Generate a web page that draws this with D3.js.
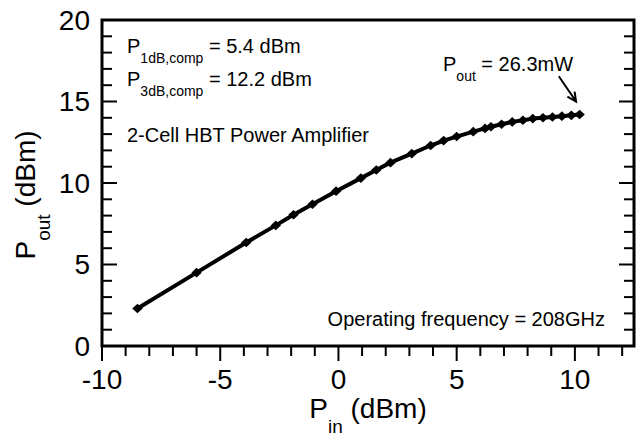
<!DOCTYPE html>
<html>
<head>
<meta charset="utf-8">
<script src="https://cdn.jsdelivr.net/npm/d3@7"></script>
<style>
  body { margin: 0; background: #fff; }
  svg { display: block; font-family: Arial, "Liberation Sans", sans-serif; }
</style>
</head>
<body>
<svg id="chart"></svg>
<script>
// Pin (dBm) vs Pout (dBm)
const pin = [-8.5, -6.0, -3.9, -2.65, -1.9, -1.1, -0.1, 0.95, 1.6, 2.2, 3.1, 3.9, 4.45, 5.0,
  5.7, 6.2, 6.45, 6.9, 7.35, 7.8, 8.22, 8.65, 9.05, 9.45, 9.85, 10.2];
const pout = [2.3, 4.5, 6.35, 7.4, 8.05, 8.7, 9.5, 10.3, 10.8, 11.25, 11.8, 12.3, 12.6, 12.85,
  13.15, 13.35, 13.45, 13.6, 13.75, 13.85, 13.95, 14.0, 14.05, 14.1, 14.15, 14.2];

const xMajor = [-10, -5, 0, 5, 10];
const xMinor = d3.range(-10, 13, 1);
const yMajor = [0, 5, 10, 15, 20];
const yMinor = d3.range(0, 21, 1);

// mũi tên chú thích P_out (đơn vị dữ liệu)
const arrowFrom = [9.32, 16.55];
const arrowTo = [10.05, 15.0];

const width = 638, height = 436;
const margin = { top: 20, right: 4, bottom: 90, left: 102 };

const svg = d3.select("#chart")
  .attr("width", width)
  .attr("height", height);

const x = d3.scaleLinear().domain([-10, 12.5]).range([margin.left, width - margin.right]);
const y = d3.scaleLinear().domain([0, 20]).range([height - margin.bottom, margin.top]);
const x0 = margin.left, x1 = width - margin.right;
const y0 = height - margin.bottom;

const data = pin.map((d, i) => ({ x: d, y: pout[i] }));
const isMajor = (v, list) => list.includes(v);

// Tick trái + phải (hướng vào trong)
const ticks = svg.append("g").attr("stroke", "#000").attr("stroke-width", 2);
ticks.selectAll(".tl")
  .data(yMinor)
  .enter().append("line")
  .attr("x1", x0)
  .attr("x2", d => x0 + (isMajor(d, yMajor) ? 15 : 10))
  .attr("y1", d => y(d)).attr("y2", d => y(d));
ticks.selectAll(".tr")
  .data(yMinor)
  .enter().append("line")
  .attr("x1", x1)
  .attr("x2", d => x1 - (isMajor(d, yMajor) ? 15 : 10))
  .attr("y1", d => y(d)).attr("y2", d => y(d));
// Tick dưới (hướng ra ngoài)
ticks.selectAll(".tb")
  .data(xMinor)
  .enter().append("line")
  .attr("x1", d => x(d)).attr("x2", d => x(d))
  .attr("y1", y0)
  .attr("y2", d => y0 + (isMajor(d, xMajor) ? 15 : 10));

// Nhãn tick
svg.selectAll(".yl")
  .data(yMajor)
  .enter().append("text")
  .attr("x", x0 - 12)
  .attr("y", d => y(d))
  .attr("dy", "0.35em")
  .attr("text-anchor", "end")
  .style("font-size", "28px")
  .text(d => d);
svg.selectAll(".xl")
  .data(xMajor)
  .enter().append("text")
  .attr("x", d => x(d))
  .attr("y", y0 + 43)
  .attr("text-anchor", "middle")
  .style("font-size", "28px")
  .text(d => String(d));

// Khung
svg.append("rect")
  .attr("x", x0)
  .attr("y", margin.top)
  .attr("width", x1 - x0)
  .attr("height", y0 - margin.top)
  .attr("fill", "none")
  .attr("stroke", "#000")
  .attr("stroke-width", 3);

// Đường dữ liệu
const line = d3.line().x(d => x(d.x)).y(d => y(d.y));
svg.append("path")
  .datum(data)
  .attr("fill", "none")
  .attr("stroke", "#000")
  .attr("stroke-width", 4)
  .attr("stroke-linejoin", "round")
  .attr("d", line);

// Điểm hình thoi
svg.selectAll(".pt")
  .data(data)
  .enter().append("path")
  .attr("class", "pt")
  .attr("transform", d => `translate(${x(d.x)},${y(d.y)})`)
  .attr("d", "M0,-4.8L5.2,0L0,4.8L-5.2,0Z")
  .attr("fill", "#000");

// Nhãn trục
const xl = svg.append("text")
  .attr("x", 368)
  .attr("y", 418)
  .attr("text-anchor", "middle")
  .style("font-size", "28px");
xl.append("tspan").text("P");
xl.append("tspan").attr("dy", 15).style("font-size", "19px").text("in");
xl.append("tspan").attr("dy", -15).text(" (dBm)");

const yl = svg.append("text")
  .attr("transform", "translate(35,195) rotate(-90)")
  .attr("text-anchor", "middle")
  .style("font-size", "28px");
yl.append("tspan").text("P");
yl.append("tspan").attr("dy", 15).style("font-size", "19px").text("out");
yl.append("tspan").attr("dy", -15).text(" (dBm)");

// Chú thích
function subLabel(px, py, main, sub, rest) {
  const t = svg.append("text").attr("x", px).attr("y", py).style("font-size", "20px");
  t.append("tspan").text(main);
  t.append("tspan").attr("dy", 10).style("font-size", "14px").text(sub);
  t.append("tspan").attr("dy", -10).text(rest);
}
subLabel(127, 53, "P", "1dB,comp", " = 5.4 dBm");
subLabel(127, 86, "P", "3dB,comp", " = 12.2 dBm");
subLabel(443, 71, "P", "out", " = 26.3mW");

svg.append("text")
  .attr("x", 127).attr("y", 142)
  .style("font-size", "20px")
  .text("2-Cell HBT Power Amplifier");

svg.append("text")
  .attr("x", 605).attr("y", 326)
  .attr("text-anchor", "end")
  .style("font-size", "20px")
  .text("Operating frequency = 208GHz");

// Mũi tên
const ax0 = x(arrowFrom[0]), ay0 = y(arrowFrom[1]);
const ax1 = x(arrowTo[0]), ay1 = y(arrowTo[1]);
const ang = Math.atan2(ay1 - ay0, ax1 - ax0);
const hl = 10, ha = 0.45;
svg.append("path")
  .attr("d", `M${ax0},${ay0}L${ax1},${ay1}` +
    `M${ax1 - hl * Math.cos(ang - ha)},${ay1 - hl * Math.sin(ang - ha)}L${ax1},${ay1}` +
    `L${ax1 - hl * Math.cos(ang + ha)},${ay1 - hl * Math.sin(ang + ha)}`)
  .attr("fill", "none")
  .attr("stroke", "#000")
  .attr("stroke-width", 2);
</script>
</body>
</html>
